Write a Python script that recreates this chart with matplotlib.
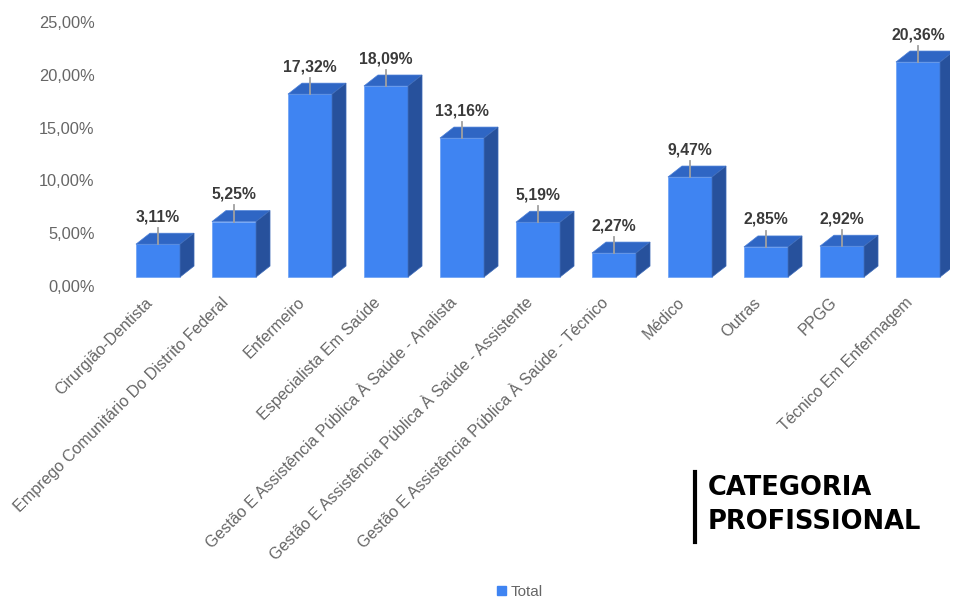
import matplotlib
matplotlib.use("Agg")
import matplotlib.pyplot as plt
from matplotlib.patches import Polygon, Patch
from matplotlib.lines import Line2D
from matplotlib.ticker import FuncFormatter
import matplotlib.transforms as mtransforms

# data
categorias = [
    "Cirurgião-Dentista",
    "Emprego Comunitário Do Distrito Federal",
    "Enfermeiro",
    "Especialista Em Saúde",
    "Gestão E Assistência Pública À Saúde - Analista",
    "Gestão E Assistência Pública À Saúde - Assistente",
    "Gestão E Assistência Pública À Saúde - Técnico",
    "Médico",
    "Outras",
    "PPGG",
    "Técnico Em Enfermagem",
]
valores = [3.11, 5.25, 17.32, 18.09, 13.16, 5.19, 2.27, 9.47, 2.85, 2.92, 20.36]
yticks = [0, 5, 10, 15, 20, 25]

# 3d look
FRONT = "#3F84F2"
TOP = "#2F66C4"
SIDE = "#27519C"
ELEV = 0.85      # lift of the front face above the axis baseline
W = 0.58         # bar width
DX, DY = 0.184, 1.04   # depth offset

plt.rcParams["font.family"] = ["Liberation Sans", "DejaVu Sans"]

fig = plt.figure(figsize=(9.54, 6.02), dpi=100)
W_PX, H_PX = 954, 602
ax = fig.add_axes([110 / W_PX, 1 - 292 / H_PX, 840 / W_PX, 282 / H_PX])

xs = list(range(len(valores)))

ax.bar(xs, valores, width=W, bottom=ELEV, color=FRONT, edgecolor="#6a9ff5",
       linewidth=0.5, zorder=3)

for x, v in zip(xs, valores):
    x0, x1 = x - W / 2, x + W / 2
    yb, yt = ELEV, ELEV + v
    top = Polygon([(x0, yt), (x1, yt), (x1 + DX, yt + DY), (x0 + DX, yt + DY)],
                  closed=True, facecolor=TOP, edgecolor="#4a7fd8", linewidth=0.5, zorder=3)
    side = Polygon([(x1, yb), (x1, yt), (x1 + DX, yt + DY), (x1 + DX, yb + DY)],
                   closed=True, facecolor=SIDE, edgecolor="#3e6bb8", linewidth=0.5, zorder=3)
    ax.add_patch(top)
    ax.add_patch(side)
    # leader line + label
    ax.plot([x, x], [yt, yt + 1.55], color="#a0a0a0", lw=1.3, zorder=4)
    ax.text(x, yt + 2.6, f"{v:.2f}".replace(".", ",") + "%", ha="center", va="center",
            fontsize=11.3, fontweight="bold", color="#3a3a3a", zorder=5)

ax.set_xlim((110 - 158) / 76, (950 - 158) / 76)
ax.set_ylim(-(292 - 286) / 10.56, 25 + (22 - 10) / 10.56)

ax.set_yticks(yticks)
ax.yaxis.set_major_formatter(FuncFormatter(lambda v, p: f"{v:.2f}".replace(".", ",") + "%"))
ax.tick_params(axis="y", length=0, pad=11, labelsize=11.8, labelcolor="#666666")

ax.set_xticks(xs)
ax.set_xticklabels(categorias, rotation=45, ha="right", va="top", rotation_mode="anchor",
                   fontsize=11.6, color="#666666")
ax.tick_params(axis="x", length=0, pad=2)
offset = mtransforms.ScaledTranslation(-13 / 100, 0, fig.dpi_scale_trans)
for lab in ax.get_xticklabels():
    lab.set_transform(lab.get_transform() + offset)

for s in ax.spines.values():
    s.set_visible(False)

# legend
fig.legend(handles=[Patch(color=FRONT, label="Total")], loc="center",
           bbox_to_anchor=(520 / W_PX, 1 - 592 / H_PX), frameon=False,
           handlelength=0.55, handleheight=0.55, handletextpad=0.3,
           prop={"size": 11}, labelcolor="#666666")

# title block
fig.add_artist(Line2D([695 / W_PX, 695 / W_PX], [1 - 472 / H_PX, 1 - 542 / H_PX],
                      color="black", lw=3, transform=fig.transFigure))
fig.text(708 / W_PX, 1 - 488 / H_PX, "CATEGORIA", fontsize=18.5, fontweight="bold",
         family="DejaVu Sans", color="black", va="center", ha="left")
fig.text(708 / W_PX, 1 - 522 / H_PX, "PROFISSIONAL", fontsize=18.5, fontweight="bold",
         family="DejaVu Sans", color="black", va="center", ha="left")

fig.savefig("out.png", dpi=100, facecolor="white")
